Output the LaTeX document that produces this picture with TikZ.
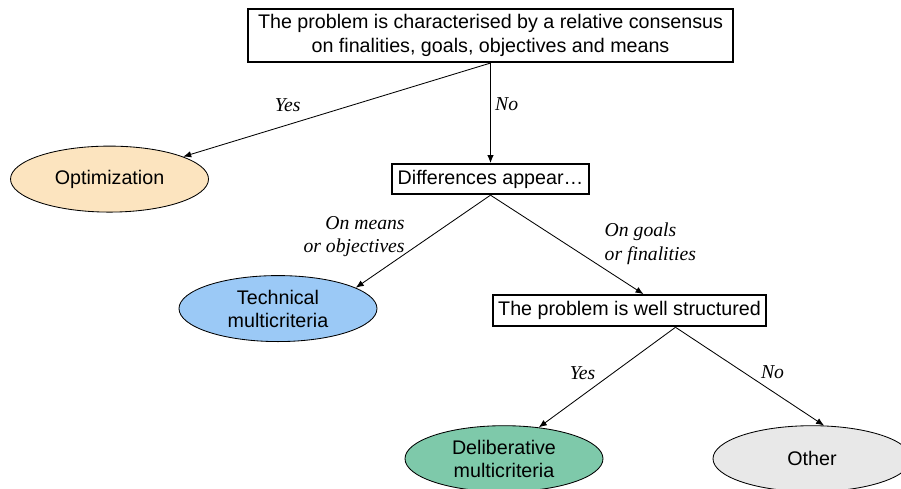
\documentclass[tikz,border=0pt]{standalone}
\usepackage{fontspec}
\setmainfont{Liberation Sans}
\newfontfamily\labelfont{Liberation Serif}
\usetikzlibrary{arrows.meta,positioning,shapes.geometric}
\definecolor{optorange}{HTML}{FCE4BF}
\definecolor{techblue}{HTML}{9BC9F6}
\definecolor{delibgreen}{HTML}{7EC9AA}
\definecolor{othergray}{HTML}{E8E8E8}
\tikzset{
  question/.style={draw=black, line width=1.5pt, align=center, inner sep=0pt, font=\fontsize{14}{16.5}\selectfont},
  leaf/.style={ellipse, draw=black, line width=0.6pt, align=center, minimum width=4.95cm, minimum height=1.65cm, inner sep=0pt, font=\fontsize{14}{16.5}\selectfont},
  lbl/.style={font=\labelfont\itshape\fontsize{14}{16.5}\selectfont, inner sep=2pt},
  arrow/.style={-{Latex[length=2mm,width=1.6mm]}, line width=0.6pt, draw=black}
}
\begin{document}
\begin{tikzpicture}[node distance=2.45cm]
  \useasboundingbox (-12.2625,0.8875) rectangle (10.2625,-11.3375);
  \node[question, minimum width=12.125cm, minimum height=1.325cm] (consensus) {The problem is characterised by a relative consensus\\on finalities, goals, objectives and means};
  \node[question, minimum width=4.925cm, minimum height=0.75cm, below=2.5cm of consensus] (differences) {Differences appear…};
  \node[leaf, fill=optorange, left=4.55cm of differences] (optim) {Optimization};
  \node[leaf, fill=techblue, below=2.0cm of differences, xshift=-5.3125cm] (technical) {Technical\\multicriteria};
  \node[question, minimum width=6.825cm, minimum height=0.775cm, below=2.475cm of differences, xshift=3.475cm] (structured) {The problem is well structured};
  \node[leaf, fill=delibgreen, below=of structured, xshift=-3.1375cm] (deliberative) {Deliberative\\multicriteria};
  \node[leaf, fill=othergray, below=of structured, xshift=4.5625cm] (other) {Other};

  \draw[arrow] (consensus.south) -- node[lbl, pos=0.66, above=0.25cm] {Yes} (optim);
  \draw[arrow] (consensus.south) -- node[lbl, pos=0.41, right=1pt] {No} (differences);
  \draw[arrow] (differences.south) -- node[lbl, pos=0.45, left=0.55cm, align=right] {On means\\or objectives} (technical.15);
  \draw[arrow] (differences.south) -- node[lbl, pos=0.49, right=0.9cm, align=left] {On goals\\or finalities} ([xshift=0.35cm]structured.north);
  \draw[arrow] ([xshift=1.15cm]structured.south) -- node[lbl, pos=0.46, left=0.35cm] {Yes} (deliberative.42);
  \draw[arrow] ([xshift=1.15cm]structured.south) -- node[lbl, pos=0.46, right=0.35cm] {No} (other.70);
\end{tikzpicture}
\end{document}
